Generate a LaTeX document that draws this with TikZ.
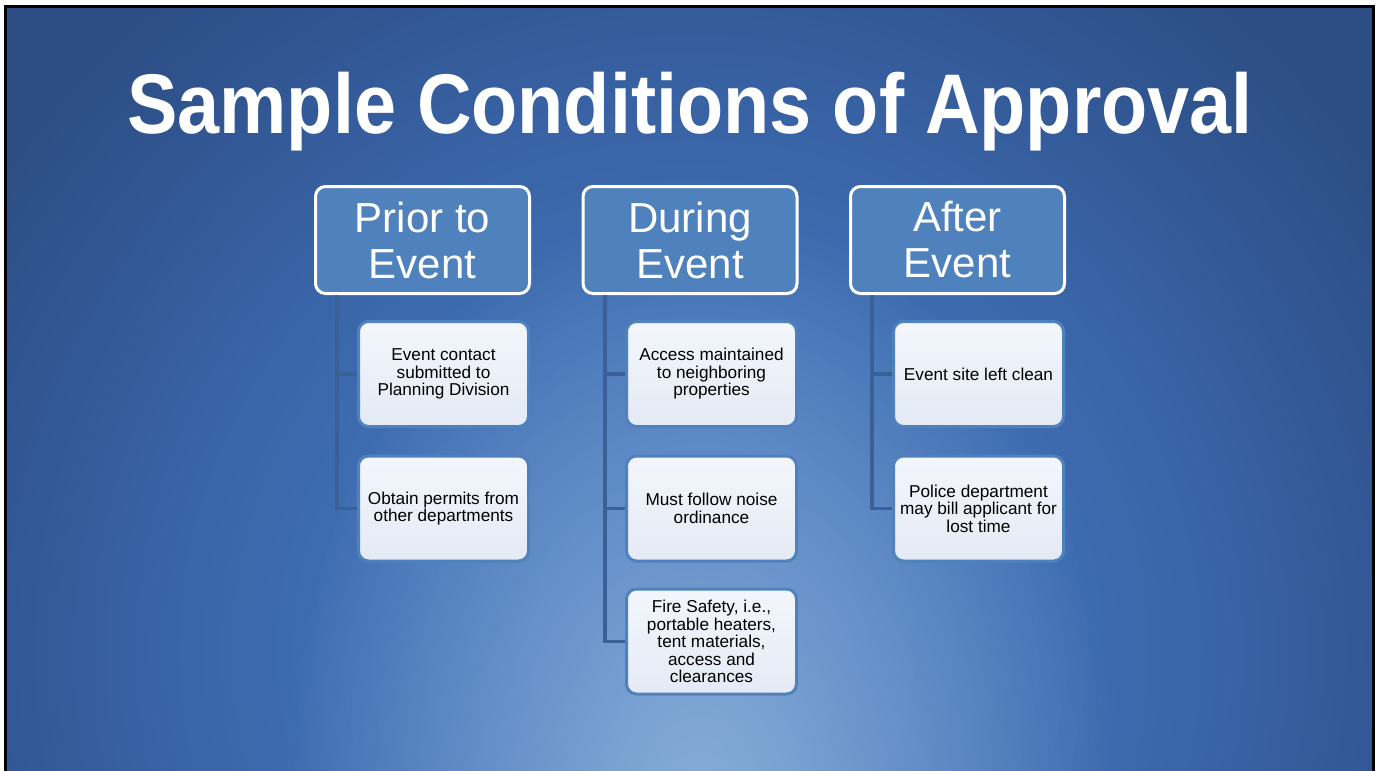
\documentclass[tikz,border=0pt]{standalone}
\usepackage{graphicx}
\usepackage{fontspec}
\setmainfont{Liberation Sans}
\usetikzlibrary{fadings}

\definecolor{accent}{RGB}{79,129,189}
\definecolor{linkblue}{RGB}{58,96,152}
\definecolor{cardtop}{RGB}{243,246,252}
\definecolor{cardbot}{RGB}{228,234,245}
\definecolor{glow}{RGB}{160,195,228}
\definecolor{slideedge}{RGB}{45,78,132}

% base slide background, darkening towards the edges
% (the shaded circle's rim sits at 25bp)
\pgfdeclareradialshading{slidebase}{\pgfpoint{0bp}{0bp}}{%
  rgb(0bp)=(0.275,0.463,0.737);
  rgb(7.5bp)=(0.259,0.443,0.718);
  rgb(11.5bp)=(0.243,0.424,0.694);
  rgb(15bp)=(0.227,0.396,0.659);
  rgb(18bp)=(0.212,0.369,0.620);
  rgb(21bp)=(0.192,0.337,0.573);
  rgb(25bp)=(0.176,0.306,0.518);
  rgb(50bp)=(0.176,0.306,0.518)}

\tikzfading[name=glowfade, inner color=transparent!0, outer color=transparent!100]

\tikzset{
  header/.style={draw=white, line width=1.5pt, fill=accent, rounded corners=5pt,
    minimum width=107pt, minimum height=53.5pt, inner sep=0pt,
    text=white, align=center, font=\fontsize{21}{23}\selectfont},
  card/.style={draw=accent, line width=1.5pt, top color=cardtop, bottom color=cardbot,
    rounded corners=5pt, minimum width=85pt, minimum height=52.5pt, inner sep=0pt,
    text=black, align=center, font=\fontsize{8.6}{8.75}\selectfont},
  link/.style={draw=linkblue, line width=1.8pt},
}

\begin{document}
\begin{tikzpicture}[x=0.5pt,y=-0.5pt]
  \useasboundingbox (0,0) rectangle (1377,771);
  \fill[white] (0,0) rectangle (1377,771);
  \begin{scope}
    \clip (5,6.5) rectangle (1373.5,771);
    \fill[slideedge] (0,0) rectangle (1377,771);
    \shade[shading=slidebase] (690,650) circle [radius=420pt];
    % soft light rising from the bottom centre
    \fill[glow, fill opacity=0.75, path fading=glowfade]
      (700,820) ellipse [x radius=210pt, y radius=310pt];
  \end{scope}
  \draw[black, line width=1.25pt] (5.3,790) -- (5.3,6.5) -- (1373.5,6.5) -- (1373.5,790);

  % title
  \node[anchor=base, text=white, inner sep=0pt,
        font=\fontsize{37.8}{40}\selectfont\bfseries] (title) at (690,133)
        {\scalebox{1}[1.12]{Sample Conditions of Approval}};

  % column headers
  \node[header] (prior)  at (422.5,240) {Prior to\\Event};
  \node[header] (during) at (690,240)   {During\\Event};
  \node[header] (after)  at (957.5,240) {After\\Event};

  % cards
  \node[card] (p1) at (443.5,374)   {Event contact\\submitted to\\Planning Division};
  \node[card] (p2) at (443.5,508.5) {Obtain permits from\\other departments};

  \node[card] (d1) at (711.5,374)   {Access maintained\\to neighboring\\properties};
  \node[card] (d2) at (711.5,508.5) {Must follow noise\\ordinance};
  \node[card] (d3) at (711.5,641.5) {Fire Safety, i.e.,\\portable heaters,\\tent materials,\\access and\\clearances};

  \node[card] (a1) at (978.5,374)   {Event site left clean};
  \node[card] (a2) at (978.5,508.5) {Police department\\may bill applicant for\\lost time};

  % connectors from each header down its column
  \draw[link] ([xshift=-42.75pt]prior.south) |- (p1.west);
  \draw[link] ([xshift=-42.75pt]prior.south) |- (p2.west);
  \draw[link] ([xshift=-42.5pt]during.south) |- (d1.west);
  \draw[link] ([xshift=-42.5pt]during.south) |- (d2.west);
  \draw[link] ([xshift=-42.5pt]during.south) |- (d3.west);
  \draw[link] ([xshift=-42.75pt]after.south) |- (a1.west);
  \draw[link] ([xshift=-42.75pt]after.south) |- (a2.west);
\end{tikzpicture}
\end{document}
